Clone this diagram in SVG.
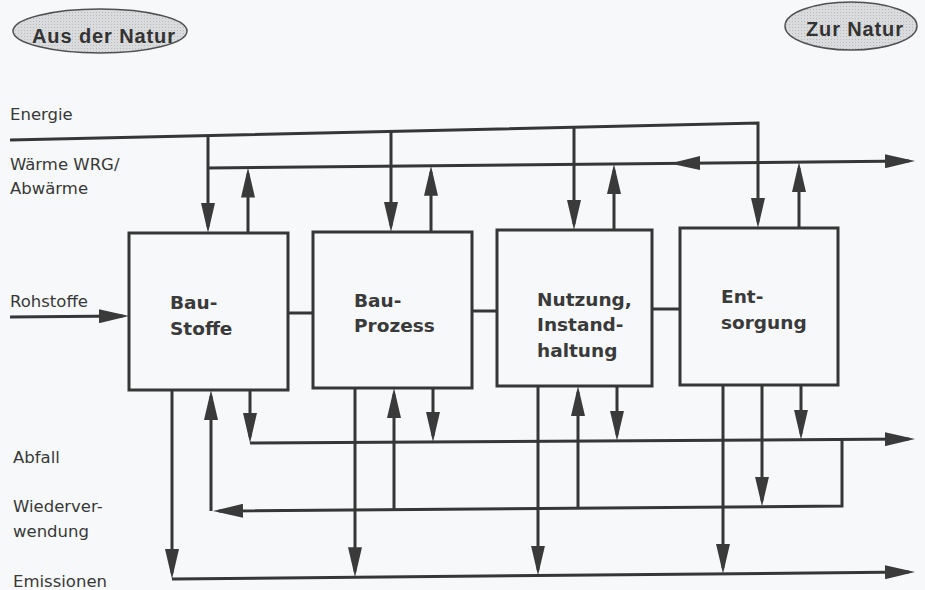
<svg xmlns="http://www.w3.org/2000/svg" width="925" height="590" viewBox="0 0 925 590">
<style>
.bg{fill:#f6f8f9}
.ln{fill:none;stroke:#363636;stroke-width:3;stroke-linejoin:miter}
.arr{marker-end:url(#ah)}
.box{fill:#f6f8f9;stroke:#363636;stroke-width:3}
.lbl{font-family:"DejaVu Sans",sans-serif;font-size:16.5px;fill:#383838}
.bt{font-family:"DejaVu Sans",sans-serif;font-weight:bold;font-size:18.5px;fill:#3a3a3a}
.ell{fill:url(#dots);stroke:#505050;stroke-width:1.5}
.et{font-family:"Liberation Sans",Arial,sans-serif;font-weight:bold;font-size:20px;fill:#333}
.ahd{fill:#3a3a3a}
</style>
<defs>
<pattern id="dots" width="3" height="3" patternUnits="userSpaceOnUse">
<rect width="3" height="3" fill="#dadbdc"/>
<rect width="1" height="1" fill="#b9babb"/>
</pattern>
<marker id="ah" markerUnits="userSpaceOnUse" markerWidth="30" markerHeight="14" refX="24" refY="7" orient="auto" viewBox="0 0 30 14">
<path d="M0,0 L30,7 L0,14 z" fill="#3a3a3a"/>
</marker>
</defs>
<rect class="bg" x="0" y="0" width="925" height="590"/>

<g id="aus-der-natur">
<ellipse class="ell" cx="100" cy="31" rx="87" ry="22"/>
<text class="et" x="32" y="43" textLength="143">Aus der Natur</text>
</g>
<g id="zur-natur">
<ellipse class="ell" cx="851" cy="26" rx="66" ry="24"/>
<text class="et" x="806" y="36" textLength="97">Zur Natur</text>
</g>

<g id="labels">
<text class="lbl" x="10" y="120">Energie</text>
<text class="lbl" x="10" y="170">Wärme WRG/</text>
<text class="lbl" x="10" y="194">Abwärme</text>
<text class="lbl" x="10" y="307">Rohstoffe</text>
<text class="lbl" x="13" y="463">Abfall</text>
<text class="lbl" x="13" y="512">Wiederver-</text>
<text class="lbl" x="13" y="537">wendung</text>
<text class="lbl" x="13" y="587">Emissionen</text>
</g>

<g id="connectors">
<path class="ln" d="M288,313 H313"/>
<path class="ln" d="M472,311 H497"/>
<path class="ln" d="M652,309 H680"/>
<path class="ln arr" d="M10,140 L758,123 L758,222"/>
<path class="ln arr" d="M208,135.5 V227"/>
<path class="ln arr" d="M391,131.3 V226"/>
<path class="ln arr" d="M574,127.2 V224"/>
<path class="ln arr" d="M208,168 L909,161"/>
<path class="ln arr" d="M248,233 V173.6"/>
<path class="ln arr" d="M431,232 V171.8"/>
<path class="ln arr" d="M614,230 V170"/>
<path class="ln arr" d="M799,228 V168.1"/>
<polygon class="ahd" points="670,163.4 700,156.1 700,170.1"/>
<path class="ln arr" d="M10,317 L123,316"/>
<path class="ln arr" d="M172,390 V573"/>
<path class="ln arr" d="M211,511 V396"/>
<path class="ln arr" d="M250,390 V437"/>
<path class="ln arr" d="M355,388 V571.3"/>
<path class="ln arr" d="M394,509.6 V394"/>
<path class="ln arr" d="M433,388 V435.9"/>
<path class="ln arr" d="M538,386 V569.6"/>
<path class="ln arr" d="M578,508.1 V392"/>
<path class="ln arr" d="M617,386 V434.8"/>
<path class="ln arr" d="M723,385 V567.8"/>
<path class="ln arr" d="M762,385 V500.6"/>
<path class="ln arr" d="M801,385 V433.7"/>
<path class="ln arr" d="M250,443 L909,439"/>
<path class="ln arr" d="M842,439.4 V506 L219,511"/>
<path class="ln arr" d="M172,579 L909,572"/>
</g>

<g id="bau-stoffe">
<rect class="box" x="129" y="233" width="159" height="157"/>
<text class="bt" x="170" y="309">Bau-</text>
<text class="bt" x="170" y="335">Stoffe</text>
</g>
<g id="bau-prozess">
<rect class="box" x="313" y="232" width="159" height="156"/>
<text class="bt" x="354" y="307">Bau-</text>
<text class="bt" x="354" y="332">Prozess</text>
</g>
<g id="nutzung">
<rect class="box" x="497" y="230" width="155" height="156"/>
<text class="bt" x="537" y="306">Nutzung,</text>
<text class="bt" x="537" y="331">Instand-</text>
<text class="bt" x="537" y="357">haltung</text>
</g>
<g id="entsorgung">
<rect class="box" x="680" y="228" width="158" height="157"/>
<text class="bt" x="721" y="303">Ent-</text>
<text class="bt" x="721" y="329">sorgung</text>
</g>
</svg>
